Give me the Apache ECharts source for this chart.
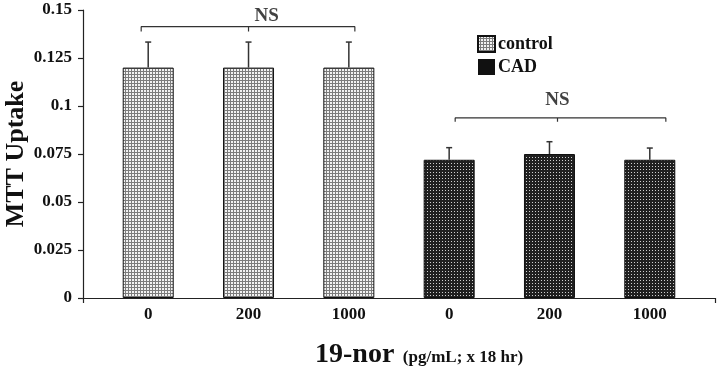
<!DOCTYPE html>
<html>
<head>
<meta charset="utf-8">
<script src="https://cdn.jsdelivr.net/npm/echarts@6/dist/echarts.min.js"></script>
<style>
  html, body { margin: 0; padding: 0; background: #fff; }
  #chart { width: 720px; height: 368px; }
</style>
</head>
<body>
<div id="chart"></div>
<script>
// values
var doseLabels = ['0', '200', '1000', '0', '200', '1000'];
var controlPos = [0, 1, 2];
var controlMean = [0.12, 0.12, 0.12];
var controlErr = [0.0133, 0.0133, 0.0133];
var cadPos = [3, 4, 5];
var cadMean = [0.072, 0.075, 0.072];
var cadErr = [0.0063, 0.0064, 0.0061];
var yTicks = { min: 0, max: 0.15, interval: 0.025 };
// significance brackets: [left, mid, right] x positions, top y, end y
var nsBrackets = [
  { x: [-0.07, 1.0, 2.06], top: 0.1413, end: 0.1388, label: [1.18, 0.1469] },
  { x: [3.06, 4.08, 5.16], top: 0.0938, end: 0.0918, label: [4.08, 0.1031] }
];

var serif = '"Liberation Serif", "Times New Roman", serif';

// 3x3 tile: cells [x, y] painted with fg over bg
function makePattern(bg, cells, fg) {
  var c = document.createElement('canvas');
  c.width = 3; c.height = 3;
  var ctx = c.getContext('2d');
  ctx.fillStyle = bg;
  ctx.fillRect(0, 0, 3, 3);
  ctx.fillStyle = fg;
  cells.forEach(function (d) { ctx.fillRect(d[0], d[1], 1, 1); });
  return { image: c, repeat: 'repeat' };
}
var lightPat = makePattern('#7c7c7c', [[0, 0], [1, 0], [0, 1], [1, 1]], '#f2f2f2');
var darkPat = makePattern('#202020', [[1, 1]], '#cfcfcf');

function pairs(xs, ys) { return xs.map(function (x, i) { return [x, ys[i]]; }); }

var errData = pairs(controlPos, controlMean).map(function (p, i) { return [p[0], p[1], p[1] + controlErr[i]]; })
  .concat(pairs(cadPos, cadMean).map(function (p, i) { return [p[0], p[1], p[1] + cadErr[i]]; }));

var bracketSeries = [];
nsBrackets.forEach(function (b) {
  bracketSeries.push({
    type: 'line', silent: true, symbol: 'none',
    lineStyle: { color: '#333', width: 1.2 },
    data: [[b.x[0], b.end], [b.x[0], b.top], [b.x[2], b.top], [b.x[2], b.end]],
    z: 5
  });
  bracketSeries.push({
    type: 'line', silent: true, symbol: 'none',
    lineStyle: { color: '#333', width: 1.2 },
    data: [[b.x[1], b.top], [b.x[1], b.end]],
    z: 5
  });
});

var chart = echarts.init(document.getElementById('chart'));
chart.setOption({
  animation: false,
  backgroundColor: '#fff',
  grid: { left: 83, right: 5, top: 10, bottom: 70, containLabel: false, outerBoundsMode: 'none' },
  title: {
    left: 310, top: 336,
    text: '{a|19-nor}{b|  (pg/mL; x 18 hr)}',
    textStyle: {
      rich: {
        a: { fontFamily: serif, fontWeight: 'bold', fontSize: 28, color: '#111' },
        b: { fontFamily: serif, fontWeight: 'bold', fontSize: 17, color: '#111', padding: [6, 0, 0, 0] }
      }
    }
  },
  legend: {
    orient: 'vertical', left: 472, top: 30,
    itemWidth: 17, itemHeight: 16, itemGap: 5,
    selectedMode: false,
    textStyle: { fontFamily: serif, fontWeight: 'bold', fontSize: 18, color: '#111', padding: [0, 0, 0, -2] },
    data: [
      { name: 'control', icon: 'rect' },
      { name: 'CAD', icon: 'rect', itemStyle: { color: '#111', borderWidth: 0 } }
    ]
  },
  xAxis: {
    type: 'value', min: -0.65, max: 5.65,
    splitLine: { show: false },
    axisLine: { show: true, onZero: false, lineStyle: { color: '#222', width: 1.2 } },
    axisTick: { show: true, length: 5, customValues: [-0.65, 5.65], lineStyle: { color: '#222', width: 1.2 } },
    axisLabel: {
      customValues: [0, 1, 2, 3, 4, 5],
      formatter: function (v) { return doseLabels[Math.round(v)]; },
      margin: 8,
      fontFamily: serif, fontWeight: 'bold', fontSize: 17, color: '#111'
    }
  },
  yAxis: {
    type: 'value', min: yTicks.min, max: yTicks.max, interval: yTicks.interval,
    name: 'MTT Uptake', nameLocation: 'middle', nameRotate: 90, nameGap: 54,
    nameMoveOverlap: false,
    nameTextStyle: { fontFamily: serif, fontWeight: 'bold', fontSize: 26, color: '#111' },
    splitLine: { show: false },
    axisLine: { show: true, onZero: false, lineStyle: { color: '#222', width: 1.2 } },
    axisTick: { show: true, length: 5, lineStyle: { color: '#222', width: 1.2 } },
    axisLabel: { margin: 11, fontFamily: serif, fontWeight: 'bold', fontSize: 17, color: '#111' }
  },
  series: [
    {
      name: 'control', type: 'bar', barWidth: 51, barGap: '-100%',
      itemStyle: { color: lightPat, borderColor: '#111', borderWidth: 1 },
      data: pairs(controlPos, controlMean)
    },
    {
      name: 'CAD', type: 'bar', barWidth: 51, barGap: '-100%',
      itemStyle: { color: darkPat, borderColor: '#111', borderWidth: 1 },
      data: pairs(cadPos, cadMean)
    },
    {
      type: 'custom', silent: true, z: 4,
      data: errData,
      renderItem: function (params, api) {
        var lo = api.coord([api.value(0), api.value(1)]);
        var hi = api.coord([api.value(0), api.value(2)]);
        var style = { stroke: '#333', lineWidth: 1.5 };
        return {
          type: 'group',
          children: [
            { type: 'line', shape: { x1: lo[0], y1: lo[1], x2: hi[0], y2: hi[1] }, style: style },
            { type: 'line', shape: { x1: hi[0] - 3, y1: hi[1], x2: hi[0] + 3, y2: hi[1] }, style: style }
          ]
        };
      }
    },
    {
      type: 'scatter', silent: true, symbolSize: 0,
      data: nsBrackets.map(function (b) { return b.label; }),
      label: {
        show: true, position: 'inside', formatter: 'NS',
        fontFamily: serif, fontWeight: 'bold', fontSize: 19, color: '#111'
      }
    }
  ].concat(bracketSeries)
});
</script>
</body>
</html>
